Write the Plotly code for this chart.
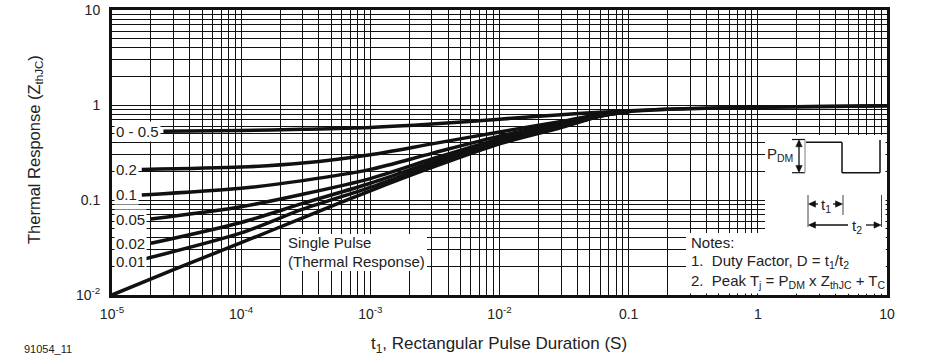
import plotly.graph_objects as go

# ---------------- data ----------------
t_single = [1e-5, 3e-5, 1e-4, 3e-4, 1e-3, 3e-3, 1e-2, 3e-2, 6e-2, 0.1, 0.2, 0.5, 1, 2, 5, 10]
z_single = [0.010, 0.0185, 0.0355, 0.065, 0.125, 0.22, 0.39, 0.58, 0.76, 0.85, 0.90, 0.93, 0.945, 0.96, 0.97, 0.98]

t_d05 = [2.5e-5, 1e-4, 3e-4, 1e-3, 3e-3, 1e-2, 3e-2, 6e-2, 0.1, 0.2, 0.5, 1, 2, 5, 10]
z_d05 = [0.53, 0.54, 0.555, 0.58, 0.63, 0.71, 0.79, 0.84, 0.87, 0.90, 0.93, 0.945, 0.96, 0.97, 0.98]

t_d02 = [1.7e-5, 1e-4, 3e-4, 1e-3, 3e-3, 1e-2, 3e-2, 6e-2, 0.1]
z_d02 = [0.21, 0.222, 0.245, 0.30, 0.39, 0.52, 0.67, 0.80, 0.86]

t_d01 = [1.7e-5, 1e-4, 3e-4, 1e-3, 3e-3, 1e-2, 3e-2, 6e-2, 0.1]
z_d01 = [0.113, 0.133, 0.16, 0.21, 0.31, 0.47, 0.64, 0.79, 0.855]

t_d005 = [2e-5, 1e-4, 3e-4, 1e-3, 3e-3, 1e-2, 3e-2, 6e-2, 0.1]
z_d005 = [0.063, 0.085, 0.115, 0.168, 0.27, 0.44, 0.62, 0.78, 0.85]

t_d002 = [2e-5, 1e-4, 3e-4, 1e-3, 3e-3, 1e-2, 3e-2, 6e-2, 0.1]
z_d002 = [0.035, 0.058, 0.092, 0.15, 0.25, 0.42, 0.60, 0.77, 0.85]

t_d001 = [1.8e-5, 1e-4, 3e-4, 1e-3, 3e-3, 1e-2, 3e-2, 6e-2, 0.1]
z_d001 = [0.024, 0.045, 0.08, 0.136, 0.235, 0.405, 0.59, 0.765, 0.85]

curve_labels = ["0 - 0.5", "0.2", "0.1", "0.05", "0.02", "0.01"]

x_decades = [-5, -4, -3, -2, -1, 0, 1]
x_major_text = ["10<sup>-5</sup>", "10<sup>-4</sup>", "10<sup>-3</sup>", "10<sup>-2</sup>", "0.1", "1", "10"]
y_decades = [-2, -1, 0, 1]
y_major_text = ["10<sup>-2</sup>", "0.1", "1", "10"]

# ---------------- figure ----------------
W, H = 936, 362
L, R, T, B = 112, 887, 10, 295
FONT = "Arial, Liberation Sans, sans-serif"
TXT = "#222222"
INK = "#111111"


def px(x):
    return (x - L) / (R - L)


def py(y):
    return (B - y) / (B - T)


def major_minor(decades):
    major = [10.0 ** e for e in decades]
    minor = [k * 10.0 ** e for e in decades[:-1] for k in range(2, 10)]
    return major, minor


fig = go.Figure()
series = [(t_single, z_single), (t_d05, z_d05), (t_d02, z_d02), (t_d01, z_d01),
          (t_d005, z_d005), (t_d002, z_d002), (t_d001, z_d001)]
for tx, zy in series:
    fig.add_trace(go.Scatter(x=tx, y=zy, mode="lines",
                             line=dict(color=INK, width=3.5, shape="spline", smoothing=0.8),
                             showlegend=False, hoverinfo="skip"))

xmaj, xmin = major_minor(x_decades)
ymaj, ymin = major_minor(y_decades)

grid_minor_x = dict(tickmode="array", tickvals=xmin, showgrid=True, gridcolor=INK, gridwidth=1, ticks="")
grid_minor_y = dict(tickmode="array", tickvals=ymin, showgrid=True, gridcolor=INK, gridwidth=1, ticks="")

fig.update_xaxes(type="log", range=[-5, 1], tickmode="array", tickvals=xmaj, ticktext=x_major_text,
                 ticks="", showgrid=True, gridcolor=INK, gridwidth=1, minor=grid_minor_x,
                 showline=True, linecolor=INK, linewidth=3, mirror=True, automargin=False,
                 zeroline=False, tickfont=dict(family=FONT, size=14, color=TXT),
                 ticklabelstandoff=4)
fig.update_yaxes(type="log", range=[-2, 1], tickmode="array", tickvals=ymaj, ticktext=y_major_text,
                 ticks="", showgrid=True, gridcolor=INK, gridwidth=1, minor=grid_minor_y,
                 showline=True, linecolor=INK, linewidth=3, mirror=True, automargin=False,
                 zeroline=False, tickfont=dict(family=FONT, size=14, color=TXT),
                 ticklabelstandoff=6)

shapes = []
# white areas (inset diagram, notes and single-pulse box)
for x0, x1, y0, y1 in [(765, 885.5, 293.5, 135), (686, 885.5, 293.5, 233), (281, 427, 271, 234)]:
    shapes.append(dict(type="rect", xref="paper", yref="paper", x0=px(x0), x1=px(x1),
                       y0=py(y0), y1=py(y1), fillcolor="white", line=dict(width=0), layer="above"))


def seg(x0, y0, x1, y1, color=INK, width=1.2):
    shapes.append(dict(type="line", xref="paper", yref="paper", x0=px(x0), y0=py(y0),
                       x1=px(x1), y1=py(y1), line=dict(color=color, width=width), layer="above"))


def head(xt, yt, direction, size=7, half=3.2):
    # filled triangular arrow head with the tip at (xt, yt)
    if direction == "left":
        pts = [(xt, yt), (xt + size, yt - half), (xt + size, yt + half)]
    elif direction == "right":
        pts = [(xt, yt), (xt - size, yt - half), (xt - size, yt + half)]
    elif direction == "up":
        pts = [(xt, yt), (xt - half, yt + size), (xt + half, yt + size)]
    else:
        pts = [(xt, yt), (xt - half, yt - size), (xt + half, yt - size)]
    path = "M " + " L ".join(f"{px(a):.5f},{py(b):.5f}" for a, b in pts) + " Z"
    shapes.append(dict(type="path", xref="paper", yref="paper", path=path,
                       fillcolor=INK, line=dict(color=INK, width=0.5), layer="above"))


# P_DM pulse diagram
seg(792, 139.5, 805, 139.5)
seg(792, 172.7, 805, 172.7)
seg(799, 141, 799, 171, width=1.3)
head(799, 139.8, "up")
head(799, 172.4, "down")
seg(805, 139.5, 805, 172.7, color="#aaaaaa", width=1.5)
seg(806, 142.3, 842, 142.3, width=1.5)
seg(842, 142.3, 842, 172.7, width=1.5)
seg(842, 172.7, 880, 172.7, width=1.5)
seg(880, 140, 880, 172.7, width=1.5)
# t1 / t2 markers
seg(808, 195, 808, 227, color="#444444", width=1)
seg(843, 195, 843, 215, color="#444444", width=1)
seg(881.5, 195, 881.5, 227, color="#444444", width=1)
seg(810, 204, 818, 204, width=1.3)
head(808.5, 204, "left")
seg(833, 204, 841, 204, width=1.3)
head(842.5, 204, "right")
seg(810, 225, 848, 225, width=1.3)
head(808.5, 225, "left")
seg(866, 225, 879, 225, width=1.3)
head(881, 225, "right")

annotations = []


def label(text, x, y, size=15, xanchor="left", bg=None, yanchor="middle"):
    d = dict(text=text, xref="paper", yref="paper", x=px(x), y=py(y), showarrow=False,
             xanchor=xanchor, yanchor=yanchor, font=dict(family=FONT, size=size, color=TXT))
    if bg:
        d.update(bgcolor=bg, borderpad=1)
    annotations.append(d)


# curve labels
label_y = [131, 169, 194, 219, 243, 261]
for txt, yy in zip(curve_labels, label_y):
    label(txt, 114, yy, size=15, bg="white")

label("Single Pulse", 286, 242, size=15)
label("(Thermal Response)", 286, 261, size=15)

label("Notes:", 689, 242, size=15)
label("1.  Duty Factor, D = t<sub>1</sub>/t<sub>2</sub>", 689, 261, size=15)
label("2.  Peak T<sub>j</sub> = P<sub>DM</sub> x Z<sub>thJC</sub> + T<sub>C</sub>", 689, 281, size=15)

label("P<sub>DM</sub>", 765, 154, size=15)
label("t<sub>1</sub>", 825.5, 205, size=15, xanchor="center")
label("t<sub>2</sub>", 857, 226, size=15, xanchor="center")

# axis titles and figure id
annotations.append(dict(text="Thermal Response (Z<sub>thJC</sub>)", xref="paper", yref="paper",
                        x=px(35), y=py(150), showarrow=False, textangle=-90,
                        xanchor="center", yanchor="middle",
                        font=dict(family=FONT, size=16.5, color=TXT)))
annotations.append(dict(text="t<sub>1</sub>, Rectangular Pulse Duration (S)", xref="paper", yref="paper",
                        x=px(499), y=py(345), showarrow=False, xanchor="center", yanchor="middle",
                        font=dict(family=FONT, size=17, color=TXT)))
annotations.append(dict(text="91054_11", xref="paper", yref="paper",
                        x=px(22), y=py(349), showarrow=False, xanchor="left", yanchor="middle",
                        font=dict(family=FONT, size=11, color=TXT)))

fig.update_layout(width=W, height=H, margin=dict(l=L, r=W - R, t=T, b=H - B, autoexpand=False),
                  paper_bgcolor="white", plot_bgcolor="white",
                  shapes=shapes, annotations=annotations, showlegend=False)

fig.write_html("out.html", config={"displayModeBar": False},
               post_script="document.body.style.margin='0';")
